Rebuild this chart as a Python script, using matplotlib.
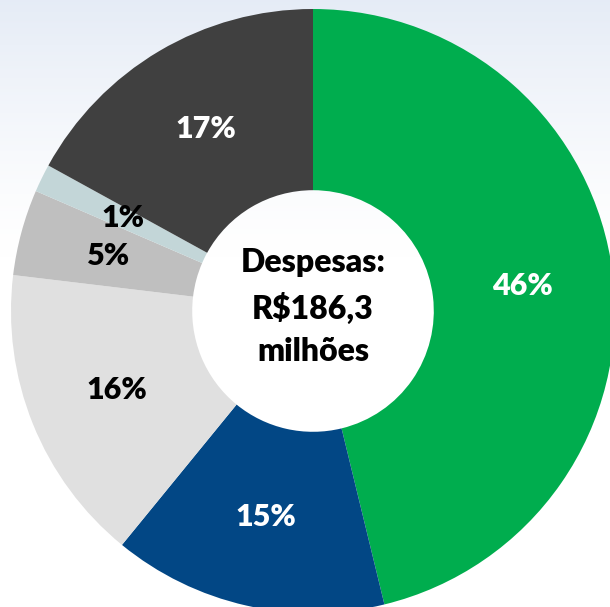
"""Donut chart: despesas breakdown (R$186,3 milhões)."""

import matplotlib

matplotlib.use("Agg")
import matplotlib.pyplot as plt
import numpy as np

# slice shares (%), clockwise from 12 o'clock
shares = [46.2, 14.7, 16.0, 4.6, 1.5, 17.0]
pct_labels = ["46%", "15%", "16%", "5%", "1%", "17%"]
colors = ["#00AD4E", "#024785", "#E0E0E0", "#BFBFBF", "#C3D6D8", "#404040"]
label_colors = ["white", "white", "black", "black", "black", "white"]
center_text = "Despesas:\nR$186,3\nmilhões"

FONT = ["Lato", "DejaVu Sans"]

fig = plt.figure(figsize=(6.10, 6.07), dpi=100)

# faint bluish backdrop at the top, fading to white
bg = fig.add_axes([0, 0, 1, 1], zorder=0)
grad = np.linspace(0, 1, 256)[:, None]
fade = np.clip(1 - grad / 0.42, 0, 1) ** 1.3
top = np.array([0.90, 0.925, 0.965])
img = 1 - fade[..., None] * (1 - top)[None, None, :]
img = np.repeat(img, 4, axis=1)
bg.imshow(img, aspect="auto", extent=(0, 1, 0, 1), origin="upper")
bg.axis("off")

ax = fig.add_axes([0, 0, 1, 1], zorder=1)
ax.patch.set_alpha(0)
wedges, texts = ax.pie(
    shares,
    labels=pct_labels,
    colors=colors,
    startangle=90,
    counterclock=False,
    radius=1.0,
    labeldistance=0.70,
    wedgeprops=dict(width=0.60, edgecolor="none"),
)
for t, c in zip(texts, label_colors):
    t.set_ha("center")
    t.set_va("center")
    t.set_color(c)
    t.set_fontsize(22)
    t.set_fontweight("heavy")
    t.set_family(FONT)

ax.text(0, 0.012, center_text, ha="center", va="center", fontsize=23,
        fontweight="heavy", family=FONT, linespacing=1.55, color="black")

# pixel layout: centre at (313, 311), outer radius 302 px
ax.set_aspect("auto")
ax.set_xlim(-313 / 302, (610 - 313) / 302)
ax.set_ylim(-(607 - 311) / 302, 311 / 302)
ax.axis("off")

fig.savefig("out.png", dpi=100)
